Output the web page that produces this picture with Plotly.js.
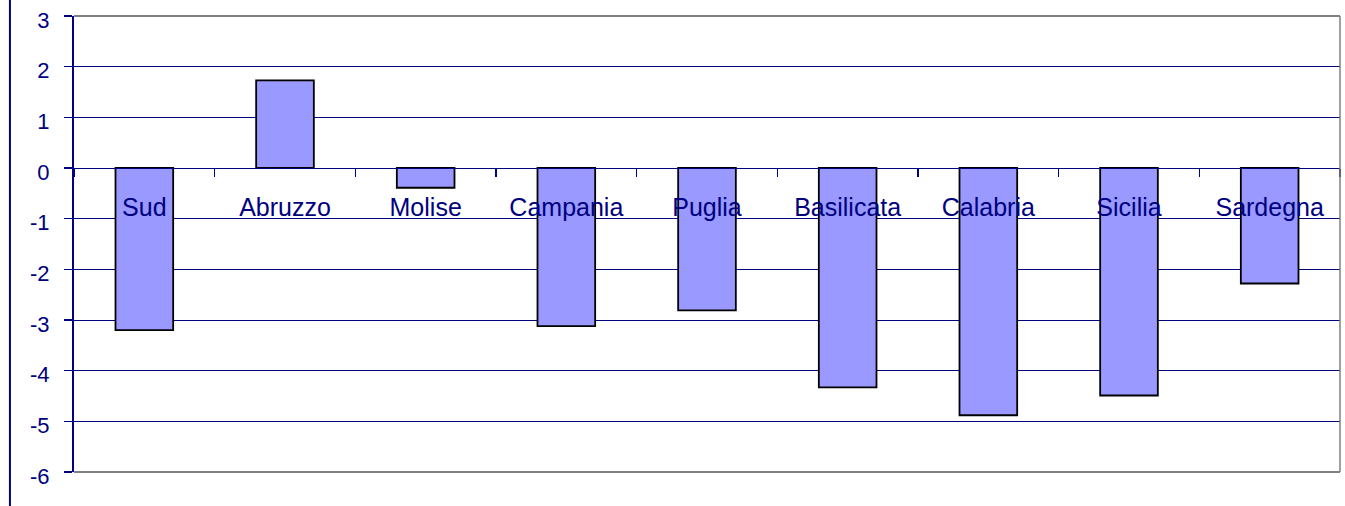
<!DOCTYPE html>
<html>
<head>
<meta charset="utf-8">
<script src="https://cdn.plot.ly/plotly-3.0.1.min.js"></script>
<style>
  html, body { margin: 0; padding: 0; background: #ffffff; }
  #chart { width: 1345px; height: 506px; }
</style>
</head>
<body>
<div id="chart"></div>
<script>
// Regions of the South and their values
const regions = ['Sud', 'Abruzzo', 'Molise', 'Campania', 'Puglia', 'Basilicata', 'Calabria', 'Sicilia', 'Sardegna'];
const values = [-3.2, 1.73, -0.39, -3.12, -2.81, -4.33, -4.88, -4.49, -2.28];
const yTicks = [3, 2, 1, 0, -1, -2, -3, -4, -5, -6];

const navy = '#000080';
const frameGrey = '#808080';

const trace = {
  type: 'bar',
  x: regions,
  y: values,
  marker: { color: '#9999FF', line: { color: '#000000', width: 1.8 } },
  hoverinfo: 'x+y'
};

const yMin = -6, yMax = 3;
const zeroPos = (0 - yMin) / (yMax - yMin);

const layout = {
  width: 1345,
  height: 506,
  margin: { l: 74, r: 5, t: 16, b: 34, pad: 0 },
  paper_bgcolor: '#ffffff',
  plot_bgcolor: '#ffffff',
  showlegend: false,
  bargap: 0.59,
  font: { family: 'Arial, "Liberation Sans", sans-serif', color: navy },
  xaxis: {
    type: 'category',
    anchor: 'free',
    position: zeroPos,
    showline: true,
    linecolor: navy,
    linewidth: 1,
    showgrid: false,
    zeroline: false,
    ticks: 'outside',
    tickson: 'boundaries',
    ticklen: 8,
    tickwidth: 1.5,
    tickcolor: navy,
    ticklabelstandoff: 17,
    tickfont: { size: 25, color: navy }
  },
  yaxis: {
    range: [yMin, yMax],
    tickvals: yTicks,
    ticktext: yTicks.map(String),
    showline: true,
    linecolor: navy,
    linewidth: 2,
    showgrid: true,
    gridcolor: navy,
    gridwidth: 1,
    zeroline: false,
    ticks: 'outside',
    ticklen: 8,
    tickwidth: 1.5,
    tickcolor: navy,
    ticklabelstandoff: 10,
    ticklabelshift: 4,
    tickfont: { size: 22, color: navy }
  },
  shapes: [
    // frame of the plot area (top, right, bottom)
    { type: 'line', xref: 'paper', yref: 'paper', x0: 0, x1: 1, y0: 1, y1: 1, line: { color: frameGrey, width: 2 } },
    { type: 'line', xref: 'paper', yref: 'paper', x0: 1, x1: 1, y0: 0, y1: 1, line: { color: frameGrey, width: 1.5 } },
    { type: 'line', xref: 'paper', yref: 'paper', x0: 0, x1: 1, y0: 0, y1: 0, line: { color: frameGrey, width: 2 } },
    // outer rule at the left edge of the chart
    { type: 'line', xref: 'paper', yref: 'paper', x0: -0.0506, x1: -0.0506, y0: -0.1, y1: 1.1, line: { color: navy, width: 2 } }
  ]
};

Plotly.newPlot('chart', [trace], layout, { staticPlot: true, displayModeBar: false });
</script>
</body>
</html>
